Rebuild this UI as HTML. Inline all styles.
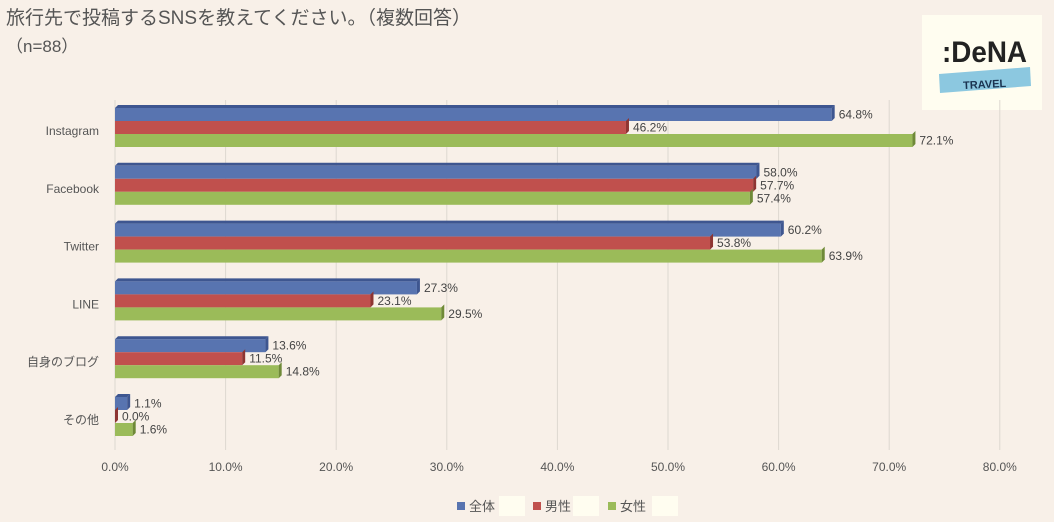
<!DOCTYPE html>
<html><head><meta charset="utf-8">
<style>
body{margin:0;width:1054px;height:522px;background:#f8f0e8;overflow:hidden;font-family:"Liberation Sans","Noto Sans CJK JP",sans-serif;}
svg{position:absolute;left:0;top:0}
</style></head>
<body>
<svg width="1054" height="522">
<text x="6" y="24" font-size="19" fill="#555">旅行先で投稿するSNSを教えてください。（複数回答）</text>
<text x="6" y="52" font-size="17" fill="#555">（n=88）</text>
<g>
<rect x="922" y="15" width="120" height="95" fill="#fffdf0"/>
<text x="942" y="62" font-size="30" font-weight="bold" fill="#222" textLength="85" lengthAdjust="spacingAndGlyphs">:DeNA</text>
<polygon points="939,74 1030,67 1031,86 940,93" fill="#8cc8e0"/>
<text x="963" y="88" font-size="11" font-weight="bold" fill="#1b3350" transform="rotate(-3 985 84)">TRAVEL</text>
</g>
<g id="grid"></g><g id="bars"></g><g id="labels"></g>
<g>
<rect x="457" y="502" width="8" height="8" fill="#5874b0"/><text x="469" y="511" font-size="13" fill="#555">全体</text>
<rect x="499" y="496" width="26" height="20" fill="#fffdf0"/>
<rect x="533" y="502" width="8" height="8" fill="#c0504d"/><text x="545" y="511" font-size="13" fill="#555">男性</text>
<rect x="573" y="496" width="26" height="20" fill="#fffdf0"/>
<rect x="608" y="502" width="8" height="8" fill="#9bbb59"/><text x="620" y="511" font-size="13" fill="#555">女性</text>
<rect x="652" y="496" width="26" height="20" fill="#fffdf0"/>
</g>
</svg>
<script>
const categories=["Instagram","Facebook","Twitter","LINE","自身のブログ","その他"];
const totalValues=[64.8,58.0,60.2,27.3,13.6,1.1];
const maleValues=[46.2,57.7,53.8,23.1,11.5,0.0];
const femaleValues=[72.1,57.4,63.9,29.5,14.8,1.6];
const ticks=[0,10,20,30,40,50,60,70,80];
const NS="http://www.w3.org/2000/svg";
const x0=115,pxPer=11.06,rowTop=130,rowGap=57.8;
const xs=v=>x0+v*pxPer;
function mk(tag,attrs,parent){const e=document.createElementNS(NS,tag);for(const k in attrs)e.setAttribute(k,attrs[k]);parent.appendChild(e);return e;}
const grid=document.getElementById('grid'),bars=document.getElementById('bars'),labels=document.getElementById('labels');
ticks.forEach(t=>{
 const l=mk('line',{x1:xs(t),x2:xs(t),y1:100,y2:450,stroke:'#ddd8d0','stroke-width':1},grid);
 
 
 const tx=mk('text',{x:xs(t),y:471,'font-size':12,fill:'#555','text-anchor':'middle'},grid);
 tx.textContent=t.toFixed(1)+'%';
 
 
});
const series=[{v:totalValues,c:'#5874b0',d:'#3e5690',n:'total'},{v:maleValues,c:'#c0504d',d:'#8e3532',n:'male'},{v:femaleValues,c:'#9bbb59',d:'#6f8a38',n:'female'}];
categories.forEach((cat,i)=>{
 const cy=rowTop+i*rowGap;
 const cl=mk('text',{x:99,y:cy+5,'font-size':12,fill:'#555','text-anchor':'end'},labels);
 cl.textContent=cat;
 
 
 series.forEach((s,j)=>{
  const y=cy-22+j*13, h=13, w=xs(s.v[i])-x0, dx=3;
  const g=mk('g',{},bars);
  
  
  if(j===0) mk('polygon',{points:`${x0},${y} ${x0+dx},${y-dx} ${x0+w+dx},${y-dx} ${x0+w},${y}`,fill:s.d},g);
  mk('rect',{x:x0,y:y,width:Math.max(w,0),height:h,fill:s.c},g);
  mk('polygon',{points:`${x0+w},${y} ${x0+w+dx},${y-dx} ${x0+w+dx},${y+h-dx} ${x0+w},${y+h}`,fill:s.d},g);
  const t=mk('text',{x:x0+w+7,y:y+h/2+4,'font-size':12,fill:'#444'},labels);
  t.textContent=s.v[i].toFixed(1)+'%';
  
  
 });
});
</script>
</body></html>
